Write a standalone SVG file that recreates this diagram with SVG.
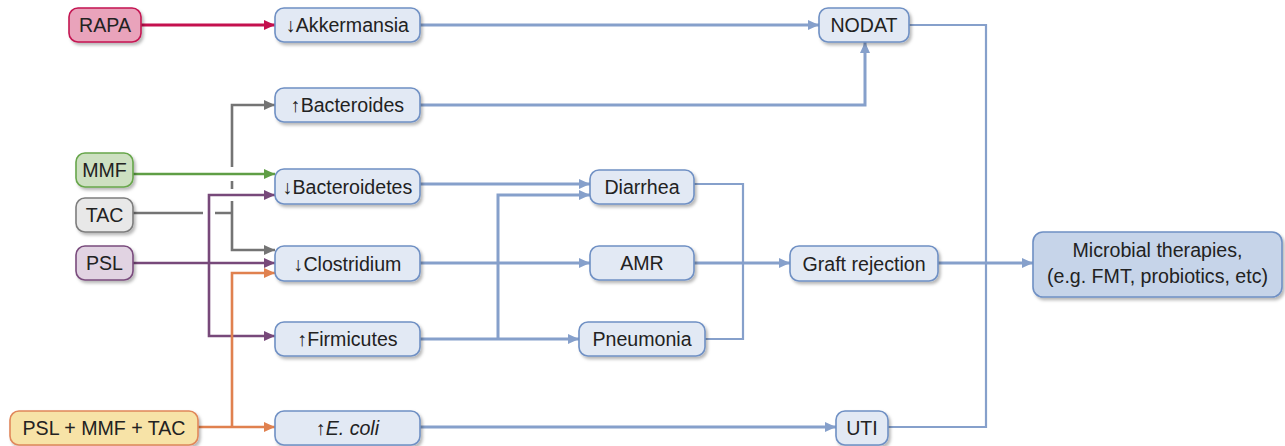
<svg xmlns="http://www.w3.org/2000/svg" width="1285" height="446" viewBox="0 0 1285 446">
<defs>
<filter id="sh" x="-10%" y="-20%" width="130%" height="160%">
<feDropShadow dx="2" dy="2.5" stdDeviation="1.8" flood-color="#000" flood-opacity="0.28"/>
</filter>
<marker id="aB" markerUnits="userSpaceOnUse" markerWidth="11" markerHeight="10" refX="11" refY="5" orient="auto"><path d="M0,0 L11,5 L0,10 z" fill="#86a0cb"/></marker>
<marker id="aR" markerUnits="userSpaceOnUse" markerWidth="11" markerHeight="10" refX="11" refY="5" orient="auto"><path d="M0,0 L11,5 L0,10 z" fill="#c4104e"/></marker>
<marker id="aG" markerUnits="userSpaceOnUse" markerWidth="11" markerHeight="10" refX="11" refY="5" orient="auto"><path d="M0,0 L11,5 L0,10 z" fill="#5f9e45"/></marker>
<marker id="aY" markerUnits="userSpaceOnUse" markerWidth="11" markerHeight="10" refX="11" refY="5" orient="auto"><path d="M0,0 L11,5 L0,10 z" fill="#747474"/></marker>
<marker id="aP" markerUnits="userSpaceOnUse" markerWidth="11" markerHeight="10" refX="11" refY="5" orient="auto"><path d="M0,0 L11,5 L0,10 z" fill="#77497a"/></marker>
<marker id="aO" markerUnits="userSpaceOnUse" markerWidth="11" markerHeight="10" refX="11" refY="5" orient="auto"><path d="M0,0 L11,5 L0,10 z" fill="#e0814f"/></marker>
</defs>
<style>
text{font-family:"Liberation Sans",Arial,sans-serif;font-size:19.6px;fill:#222;text-anchor:middle}
.n rect{stroke-width:1.6}
.b rect{fill:#e2e9f4;stroke:#6f90c4}
.c{fill:none;stroke-linejoin:miter}
.bl{stroke:#86a0cb;stroke-width:3}
.bt{stroke:#86a0cb;stroke-width:2.2}
.r{stroke:#c4104e;stroke-width:3}
.g{stroke:#5f9e45;stroke-width:2.6}
.y{stroke:#747474;stroke-width:2.6}
.p{stroke:#77497a;stroke-width:2.6}
.o{stroke:#e0814f;stroke-width:2.6}
.w{stroke:#fff;stroke-width:5}
</style>
<g id="connectors">
<path class="c bl" d="M420,25 H819" marker-end="url(#aB)"/>
<path class="c bl" d="M420,105 H865 V42" marker-end="url(#aB)"/>
<path class="c bt" d="M909,25 H986 V427 H888"/>
<path class="c bl" d="M938,263 H1033" marker-end="url(#aB)"/>
<path class="c bl" d="M694,263 H790" marker-end="url(#aB)"/>
<path class="c bt" d="M694,184 H743 V339 H705"/>
<path class="c bl" d="M420,184 H590" marker-end="url(#aB)"/>
<path class="c bl" d="M420,263 H590" marker-end="url(#aB)"/>
<path class="c bl" d="M420,339 H579" marker-end="url(#aB)"/>
<path class="c bl" d="M498,339 V195 H590" marker-end="url(#aB)"/>
<path class="c bl" d="M420,427 H836" marker-end="url(#aB)"/>
<path class="c r" d="M141,25 H275" marker-end="url(#aR)"/>
<path class="c y" d="M133,213 H232"/>
<path class="c y" d="M232,213 V105 H275" marker-end="url(#aY)"/>
<path class="c y" d="M232,213 V250 H275" marker-end="url(#aY)"/>
<path class="c w" d="M232,167 V181 M232,189 V201 M203,213 H215"/>
<path class="c g" d="M133,174 H275" marker-end="url(#aG)"/>
<path class="c p" d="M133,263 H275" marker-end="url(#aP)"/>
<path class="c p" d="M209,263 V195 H275" marker-end="url(#aP)"/>
<path class="c p" d="M209,263 V336 H275" marker-end="url(#aP)"/>
<path class="c o" d="M198,427 H275" marker-end="url(#aO)"/>
<path class="c o" d="M232,427 V273 H275" marker-end="url(#aO)"/>
</g>
<g id="rapa" class="n"><rect x="69" y="8" width="72" height="34" rx="9" fill="#e9a3bb" stroke="#c41652" filter="url(#sh)"/><text x="105" y="32">RAPA</text></g>
<g id="mmf" class="n"><rect x="76" y="153" width="57" height="34" rx="9" fill="#cde0c1" stroke="#67a64b" filter="url(#sh)"/><text x="104.5" y="177">MMF</text></g>
<g id="tac" class="n"><rect x="76" y="198" width="57" height="34" rx="9" fill="#e8e8e8" stroke="#7d7d7d" filter="url(#sh)"/><text x="104.5" y="222">TAC</text></g>
<g id="psl" class="n"><rect x="76" y="246" width="57" height="34" rx="9" fill="#e1d3e2" stroke="#7a4c7d" filter="url(#sh)"/><text x="104.5" y="270">PSL</text></g>
<g id="combo" class="n"><rect x="10" y="411" width="188" height="34" rx="9" fill="#f7e3a7" stroke="#e0875a" filter="url(#sh)"/><text x="104" y="435">PSL + MMF + TAC</text></g>
<g id="akkermansia" class="n b"><rect x="275" y="8" width="145" height="34" rx="9" filter="url(#sh)"/><text x="347.5" y="32">↓Akkermansia</text></g>
<g id="bacteroides" class="n b"><rect x="275" y="88" width="145" height="34" rx="9" filter="url(#sh)"/><text x="347.5" y="112">↑Bacteroides</text></g>
<g id="bacteroidetes" class="n b"><rect x="275" y="169" width="145" height="35" rx="9" filter="url(#sh)"/><text x="347.5" y="193.5">↓Bacteroidetes</text></g>
<g id="clostridium" class="n b"><rect x="275" y="246" width="145" height="35" rx="9" filter="url(#sh)"/><text x="347.5" y="270.5">↓Clostridium</text></g>
<g id="firmicutes" class="n b"><rect x="275" y="322" width="145" height="34" rx="9" filter="url(#sh)"/><text x="347.5" y="346">↑Firmicutes</text></g>
<g id="ecoli" class="n b"><rect x="275" y="411" width="145" height="34" rx="9" filter="url(#sh)"/><text x="347.5" y="435">↑<tspan font-style="italic">E. coli</tspan></text></g>
<g id="diarrhea" class="n b"><rect x="590" y="170" width="104" height="34" rx="9" filter="url(#sh)"/><text x="642" y="194">Diarrhea</text></g>
<g id="amr" class="n b"><rect x="590" y="246" width="104" height="34" rx="9" filter="url(#sh)"/><text x="642" y="270">AMR</text></g>
<g id="pneumonia" class="n b"><rect x="579" y="322" width="126" height="34" rx="9" filter="url(#sh)"/><text x="642" y="346">Pneumonia</text></g>
<g id="nodat" class="n b"><rect x="819" y="8" width="90" height="34" rx="9" filter="url(#sh)"/><text x="864" y="32">NODAT</text></g>
<g id="graft" class="n b"><rect x="790" y="246" width="148" height="35" rx="9" filter="url(#sh)"/><text x="864" y="270.5">Graft rejection</text></g>
<g id="uti" class="n b"><rect x="836" y="411" width="52" height="34" rx="9" filter="url(#sh)"/><text x="862" y="435">UTI</text></g>
<g id="microbial" class="n"><rect x="1033" y="232" width="249" height="65" rx="10" fill="#c6d4e9" stroke="#6f90c4" filter="url(#sh)"/><text x="1157.5" y="257">Microbial therapies,</text><text x="1157.5" y="283">(e.g. FMT, probiotics, etc)</text></g>
</svg>
